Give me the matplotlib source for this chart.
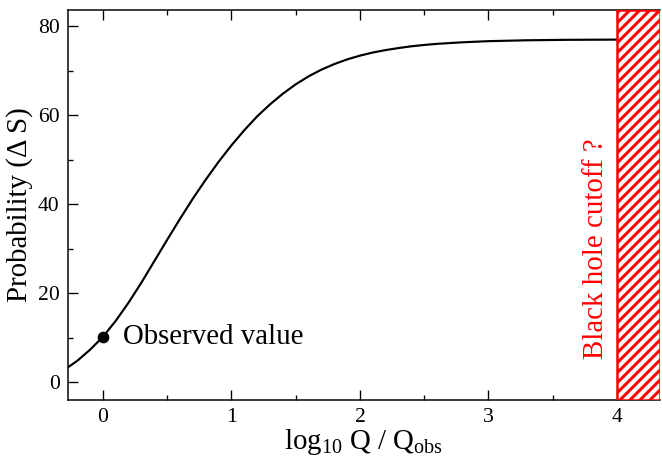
import numpy as np
import matplotlib.pyplot as plt
from matplotlib.ticker import MultipleLocator

plt.rcParams['font.family'] = ['Liberation Serif', 'DejaVu Serif']
plt.rcParams['mathtext.fontset'] = 'custom'
plt.rcParams['mathtext.rm'] = 'Liberation Serif'
plt.rcParams['mathtext.it'] = 'Liberation Serif:italic'
plt.rcParams['hatch.linewidth'] = 1.8

# curve
log_q = [-0.27, -0.2, -0.1, 0.0, 0.1, 0.2, 0.3, 0.4, 0.5, 0.6, 0.7, 0.8, 0.9,
         1.0, 1.1, 1.2, 1.3, 1.4, 1.5, 1.6, 1.7, 1.8, 1.9, 2.0, 2.1, 2.2, 2.3,
         2.4, 2.5, 2.6, 2.8, 3.0, 3.3, 3.6, 4.0]
prob = [3.4, 4.8, 7.3, 10.2, 13.8, 17.9, 22.4, 27.2, 32.0, 36.7, 41.25, 45.5,
        49.5, 53.2, 56.6, 59.7, 62.4, 64.8, 66.9, 68.7, 70.2, 71.45, 72.5, 73.35,
        74.05, 74.6, 75.05, 75.45, 75.75, 76.0, 76.35, 76.6, 76.8, 76.9, 76.95]

obs_x, obs_y = 0.0, 10.2
cutoff = 4.0
xmin, xmax = -0.272, 4.335
ymin, ymax = -4.0, 83.6

fig = plt.figure(figsize=(662 / 120, 457 / 120), dpi=120)
ax = fig.add_axes([68 / 662, 1 - 400 / 457, 592 / 662, 390 / 457])

ax.plot(log_q, prob, color='black', linewidth=1.3)
ax.plot(obs_x, obs_y, 'o', color='black', markersize=6)
ax.text(0.155, obs_y, 'Observed value', fontsize=17.3, va='center', ha='left')

ax.axvspan(cutoff, xmax, facecolor='white', edgecolor='red', hatch='////',
           linewidth=1.5, zorder=3)
ax.text(3.84, 30, 'Black hole cutoff ?', color='red', fontsize=17.3,
        rotation=90, ha='center', va='center')

ax.set_xlim(xmin, xmax)
ax.set_ylim(ymin, ymax)
ax.xaxis.set_major_locator(MultipleLocator(1))
ax.xaxis.set_minor_locator(MultipleLocator(0.5))
ax.yaxis.set_major_locator(MultipleLocator(20))
ax.yaxis.set_minor_locator(MultipleLocator(10))
ax.tick_params(which='both', direction='in', top=True, right=False, width=0.8)
ax.tick_params(which='major', length=6, labelsize=13, pad=5)
ax.tick_params(which='minor', length=3)
ax.spines['right'].set_visible(False)
for s in ['left', 'bottom', 'top']:
    ax.spines[s].set_linewidth(0.9)

ax.set_xlabel(r'log$_{10}$ Q / Q$_{\rm obs}$', fontsize=17.3, labelpad=0)
ax.set_ylabel('Probability (Δ S)', fontsize=17.3, labelpad=3)

fig.savefig('out.png', dpi=120)
